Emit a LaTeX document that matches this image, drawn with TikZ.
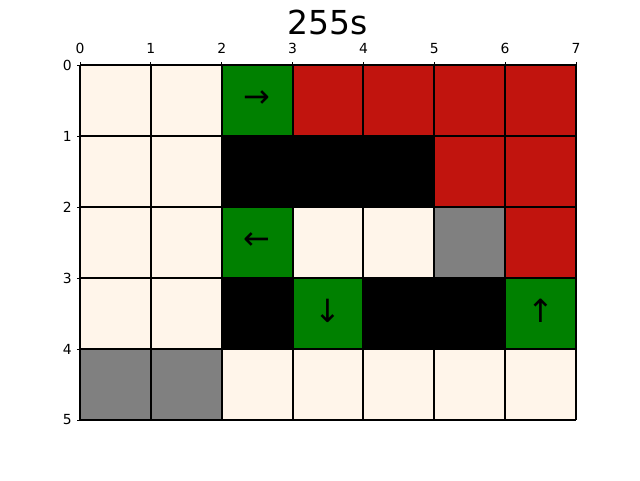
\documentclass[tikz,border=0pt]{standalone}
\usepackage{fontspec}
\setmainfont{DejaVu Sans}
\definecolor{cream}{HTML}{FFF5EA}
\definecolor{wallred}{HTML}{C1140E}
\definecolor{goal}{HTML}{008000}
\definecolor{stone}{HTML}{808080}
\tikzset{
  cell/.style={draw=none},
  gridline/.style={line width=1.9pt, black},
  tick/.style={line width=0.9pt, black},
  ticklabel/.style={font=\fontsize{13.9}{14}\selectfont, inner sep=0pt},
  arrowlabel/.style={font=\fontsize{32}{32}\selectfont, inner sep=0pt},
  titlelabel/.style={font=\fontsize{33}{33}\selectfont, inner sep=0pt}
}
\begin{document}
\begin{tikzpicture}[x=1pt,y=-1pt]
\useasboundingbox (0,0) rectangle (640,480);
% cells: row, col, colour
\foreach \r/\c/\col in {
 0/0/cream,0/1/cream,0/2/goal,0/3/wallred,0/4/wallred,0/5/wallred,0/6/wallred,
 1/0/cream,1/1/cream,1/2/black,1/3/black,1/4/black,1/5/wallred,1/6/wallred,
 2/0/cream,2/1/cream,2/2/goal,2/3/cream,2/4/cream,2/5/stone,2/6/wallred,
 3/0/cream,3/1/cream,3/2/black,3/3/goal,3/4/black,3/5/black,3/6/goal,
 4/0/stone,4/1/stone,4/2/cream,4/3/cream,4/4/cream,4/5/cream,4/6/cream}
 {\fill[cell, fill=\col] ({80+\c*70.857},{65+\r*71}) rectangle ({80+(\c+1)*70.857},{65+(\r+1)*71});}
% grid
\foreach \i in {0,...,7} \draw[gridline] ({80+\i*70.857},65) -- ({80+\i*70.857},420);
\foreach \j in {0,...,5} \draw[gridline] (80,{65+\j*71}) -- (576,{65+\j*71});
% ticks and labels
\foreach \i in {0,...,7} {
  \draw[tick] ({80+\i*70.857},65) -- ({80+\i*70.857},61.5);
  \node[ticklabel, anchor=base] (tx\i) at ({80+\i*70.857},53) {\i};
}
\foreach \j in {0,...,5} {
  \draw[tick] (80,{65+\j*71}) -- (76.5,{65+\j*71});
  \node[ticklabel, anchor=east] (ty\j) at (72,{65+\j*71}) {\j};
}
% arrows
\node[arrowlabel] (a1) at ({80+2.5*70.857},99) {→};
\node[arrowlabel] (a2) at ({80+2.5*70.857},241) {←};
\node[arrowlabel] (a3) at ({80+3.5*70.857},311) {↓};
\node[arrowlabel] (a4) at ({80+6.5*70.857},311) {↑};
% title
\node[titlelabel, anchor=base] (title) at (328,34) {255s};
\end{tikzpicture}
\end{document}
